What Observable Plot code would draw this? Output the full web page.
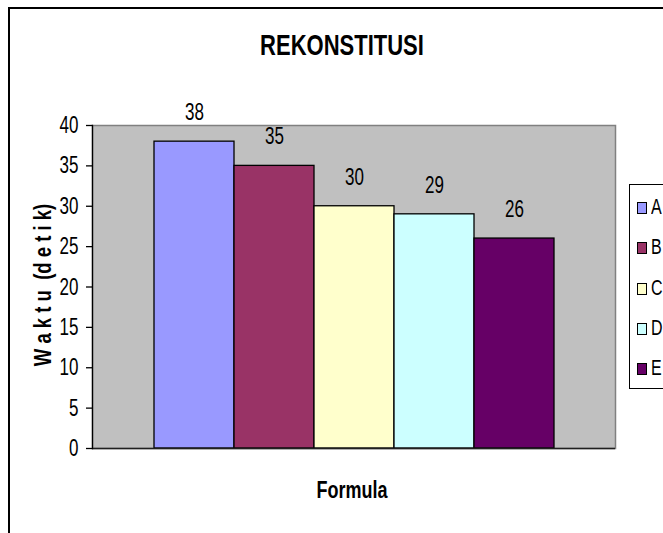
<!DOCTYPE html>
<html>
<head>
<meta charset="utf-8">
<script src="https://cdn.jsdelivr.net/npm/d3@7"></script>
<script src="https://cdn.jsdelivr.net/npm/@observablehq/plot@0.6"></script>
<style>
  html, body { margin: 0; padding: 0; background: #fff; overflow: hidden; width: 663px; height: 533px; }
  #wrap { position: relative; width: 663px; height: 533px; overflow: hidden; font-family: "Liberation Sans", Arial, sans-serif; color: #000; }
  #frame { position: absolute; left: 8px; top: 7px; width: 720px; height: 600px; border-left: 2px solid #000; border-top: 2px solid #000; }
  #chart { position: absolute; left: 0; top: 0; }
  .lbl { position: absolute; white-space: pre; line-height: 1; font-weight: bold; }
  #title { left: 342px; top: 45px; font-size: 22px; transform: translate(-50%, -50%) scaleY(1.38); }
  #xlabel { left: 352px; top: 490px; font-size: 18px; transform: translate(-50%, -50%) scaleY(1.38); }
  #ylabel { left: 44px; top: 285px; font-size: 18.5px; transform: translate(-50%, -50%) rotate(-90deg) scaleY(1.25); }
  #legend { position: absolute; left: 629px; top: 184px; width: 80px; height: 203px; border: 1px solid #000; background: #fff; }
  .item { position: absolute; left: 7px; height: 20px; }
  .sw { position: absolute; left: 0; top: 4px; width: 8px; height: 10px; border: 1px solid #000; }
  .it { position: absolute; left: 14px; top: 1px; font-size: 16px; line-height: 1; transform: scaleY(1.38); transform-origin: 0 50%; }
</style>
</head>
<body>
<div id="wrap">
  <div id="frame"></div>
  <div id="chart"></div>
  <div id="title" class="lbl"></div>
  <div id="xlabel" class="lbl"></div>
  <div id="ylabel" class="lbl"></div>
  <div id="legend"></div>
</div>
<script>
// ---- data ----
const categories = ["A", "B", "C", "D", "E"];
const values = [38, 35, 30, 29, 26];
const colors = ["#9999FF", "#993366", "#FFFFCC", "#CCFFFF", "#660066"];
const yTicks = [0, 5, 10, 15, 20, 25, 30, 35, 40];
const chartTitle = "REKONSTITUSI";
const xTitle = "Formula";
const yTitle = "W a k t u  (d e t i k)";

const data = categories.map((c, i) => ({formula: c, waktu: values[i]}));

document.getElementById("title").textContent = chartTitle;
document.getElementById("xlabel").textContent = xTitle;
document.getElementById("ylabel").textContent = yTitle;

const plot = Plot.plot({
  width: 663,
  height: 533,
  marginLeft: 92,
  marginRight: 48,
  marginTop: 125,
  marginBottom: 85,
  style: {fontFamily: '"Liberation Sans", Arial, sans-serif', fontSize: "17px", color: "#000", background: "transparent", overflow: "visible"},
  x: {domain: categories, paddingInner: 0, paddingOuter: 0.75, axis: null},
  y: {domain: [0, 40], label: null},
  color: {domain: categories, range: colors},
  marks: [
    Plot.frame({fill: "#c0c0c0", stroke: "#808080", strokeWidth: 1.5}),
    Plot.barY(data, {x: "formula", y: "waktu", fill: "formula", stroke: "#000", strokeWidth: 1.3, insetLeft: 0, insetRight: 0}),
    Plot.text(data, {x: "formula", y: "waktu", text: d => String(d.waktu), dy: -29, fontSize: 17, fill: "#000"}),
    Plot.ruleY([0], {stroke: "#202020", strokeWidth: 1.3}),
    Plot.frame({anchor: "left", stroke: "#000", strokeWidth: 1.3}),
    Plot.axisY({ticks: yTicks, tickSize: 6, tickPadding: 8, label: null, fontSize: 17, stroke: "#000", strokeWidth: 1.3})
  ]
});

// stretch text vertically to match the reference's tall glyphs
plot.querySelectorAll("text").forEach(t => {
  const tr = t.getAttribute("transform") || "";
  t.setAttribute("transform", tr + " scale(1,1.38)");
});
document.getElementById("chart").appendChild(plot);

// legend
const legend = document.getElementById("legend");
categories.forEach((c, i) => {
  const item = document.createElement("div");
  item.className = "item";
  item.style.top = (13 + i * 40.3) + "px";
  const sw = document.createElement("div");
  sw.className = "sw";
  sw.style.background = colors[i];
  const tx = document.createElement("div");
  tx.className = "it";
  tx.textContent = c;
  item.appendChild(sw);
  item.appendChild(tx);
  legend.appendChild(item);
});
</script>
</body>
</html>
